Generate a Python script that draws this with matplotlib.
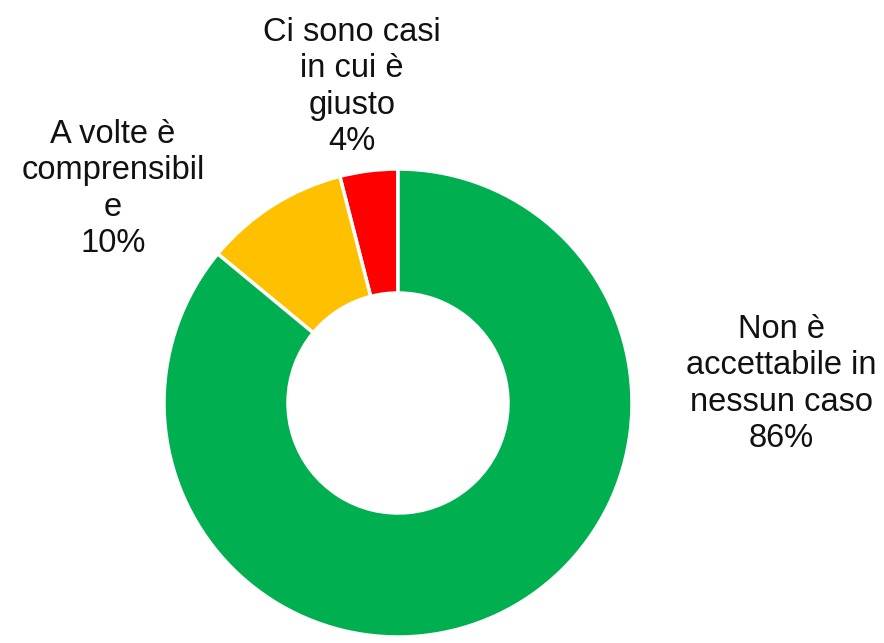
import matplotlib
matplotlib.use('Agg')
import matplotlib.pyplot as plt

plt.rcParams['font.family'] = ['Liberation Sans', 'DejaVu Sans']

labels = ['Ci sono casi\nin cui è\ngiusto', 'A volte è\ncomprensibil\ne', 'Non è\naccettabile in\nnessun caso']
values = [4, 10, 86]
colors = ['#FF0000', '#FFC000', '#00B050']

fig = plt.figure(figsize=(8.84, 6.43), dpi=100)
ax = fig.add_axes([0, 0, 1, 1])

ax.pie(values, colors=colors, startangle=90, counterclock=True,
       center=(398, 240), radius=234, frame=True,
       wedgeprops=dict(width=124, edgecolor='white', linewidth=2.5))
ax.set_xlim(0, 884)
ax.set_ylim(0, 643)
ax.set_aspect('equal')
ax.axis('off')

# label positions (baseline of the last line)
pos = [(352, 643 - 150), (113, 643 - 252), (781, 643 - 447)]
for lab, v, (x, y) in zip(labels, values, pos):
    ax.text(x, y, lab + '\n' + str(v) + '%', ha='center', va='baseline',
            fontsize=23.5, linespacing=1.22, color='#111111')

fig.savefig('out.png', dpi=100)
